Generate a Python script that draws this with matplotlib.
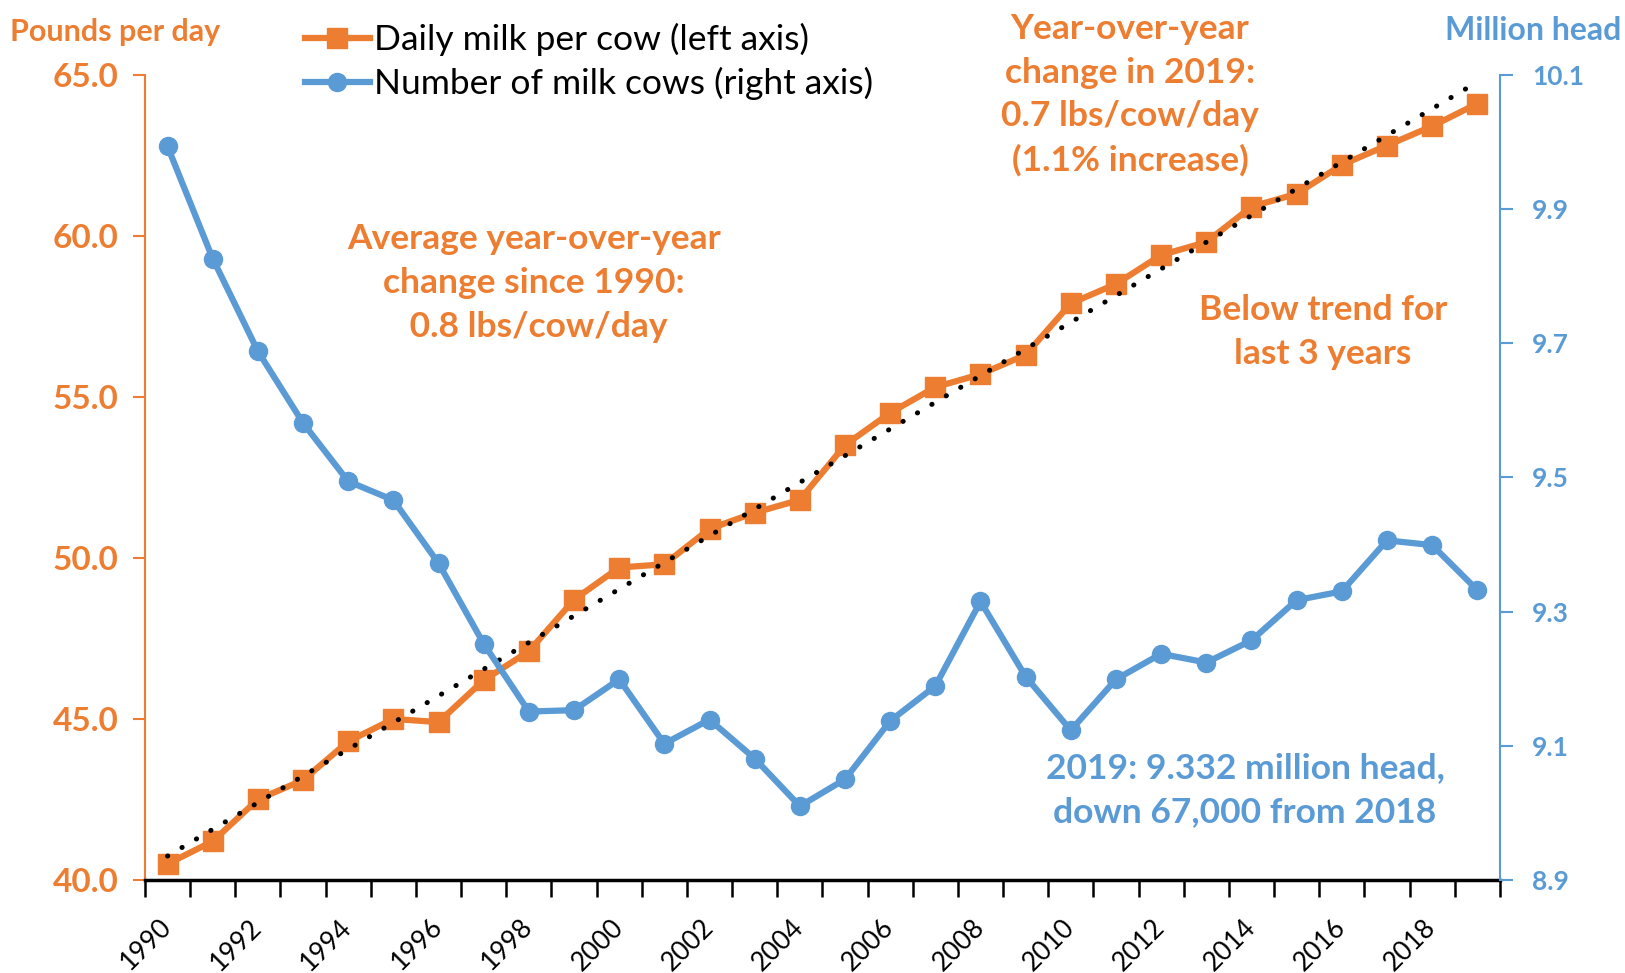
import numpy as np
import matplotlib.pyplot as plt

# ---   DATA   --- #
years = list(range(1990, 2020))
milk_per_cow = [
    40.5, 41.2, 42.5, 43.1, 44.3, 45.0, 44.9, 46.2, 47.1, 48.7,
    49.7, 49.8, 50.9, 51.4, 51.8, 53.5, 54.5, 55.3, 55.7, 56.3,
    57.9, 58.5, 59.4, 59.8, 60.9, 61.3, 62.2, 62.8, 63.4, 64.1,
]
milk_cows = [
    9.993, 9.826, 9.688, 9.581, 9.494, 9.466, 9.372, 9.252, 9.151, 9.153,
    9.199, 9.103, 9.139, 9.081, 9.010, 9.050, 9.137, 9.189, 9.315, 9.203,
    9.123, 9.199, 9.237, 9.224, 9.257, 9.317, 9.330, 9.406, 9.399, 9.332,
]
left_ticks = [40.0, 45.0, 50.0, 55.0, 60.0, 65.0]
right_ticks = [8.9, 9.1, 9.3, 9.5, 9.7, 9.9, 10.1]

ORANGE = '#ED7D31'
BLUE = '#5B9BD5'
FONT = 'Lato'

# ---   FIGURE   --- #
plt.rcParams['font.family'] = [FONT, 'DejaVu Sans']
fig = plt.figure(figsize=(16.25, 9.73), dpi=100)
ax = fig.add_axes([0.0892, 0.0956, 0.8338, 0.8277])
ax2 = ax.twinx()

x = np.arange(len(years))
# Milk per cow + linear trend
ax.plot(x, milk_per_cow, color=ORANGE, lw=4.5, marker='s', ms=14,
        label='Daily milk per cow (left axis)', zorder=3)
coef = np.polyfit(x, milk_per_cow, 1)
ax.plot(x, np.polyval(coef, x), color='black', lw=3.6,
        linestyle=(0, (0.05, 3.3)), dash_capstyle='round', zorder=4)
# Number of cows
ax2.plot(x, milk_cows, color=BLUE, lw=4.5, marker='o', ms=13,
         label='Number of milk cows (right axis)', zorder=3)

# ---   AXES FORMAT   --- #
ax.set_xlim(-0.5, len(years) - 0.5)
ax.set_ylim(40, 65)
ax2.set_ylim(8.9, 10.1)
ax.set_xticks(np.arange(-0.5, len(years), 1.0))
ax.set_xticklabels([])
ax.set_xticks(x[::2], minor=True)
ax.tick_params(axis='x', which='major', length=12, width=1.8, color='black',
               direction='out')
ax.tick_params(axis='x', which='minor', length=0, pad=31)
ax.set_xticklabels([str(y) for y in years[::2]], minor=True, rotation=45,
                   ha='right', va='center', rotation_mode='anchor', fontsize=19)

ax.set_yticks(left_ticks)
ax.set_yticklabels([f'{v:.1f}' for v in left_ticks], fontsize=24,
                   fontweight='bold', color=ORANGE)
ax.tick_params(axis='y', length=9, width=1.5, color=ORANGE, pad=10)
ax2.set_yticks(right_ticks)
ax2.set_yticklabels([f'{v:.1f}' for v in right_ticks], fontsize=19,
                    fontweight='bold', color=BLUE)
ax2.tick_params(axis='y', length=9, width=1.5, color=BLUE, pad=14)

for a in (ax, ax2):
    a.spines['top'].set_visible(False)
ax.spines['right'].set_visible(False)
ax.spines['left'].set_color(ORANGE)
ax.spines['left'].set_linewidth(1.5)
ax.spines['bottom'].set_linewidth(2.5)
ax2.spines['left'].set_visible(False)
ax2.spines['bottom'].set_visible(False)
ax2.spines['right'].set_color(BLUE)
ax2.spines['right'].set_linewidth(1.5)

# ---   TEXTS   --- #
def ftext(px, py, s, color, size=25.5, weight='bold', ha='center'):
    fig.text(px / 1625, 1 - py / 973, s, color=color, fontsize=size,
             fontweight=weight, ha=ha, va='center', linespacing=1.45)

ftext(10, 32, 'Pounds per day', ORANGE, size=22, ha='left')
ftext(1621, 31, 'Million head', BLUE, size=23, ha='right')
ftext(1130, 95, 'Year-over-year\nchange in 2019:\n0.7 lbs/cow/day\n(1.1% increase)',
      ORANGE)
ftext(534, 283, 'Average year-over-year\nchange since 1990:\n 0.8 lbs/cow/day',
      ORANGE)
ftext(1323, 332, 'Below trend for\nlast 3 years', ORANGE)
ftext(1245, 790, '2019: 9.332 million head,\ndown 67,000 from 2018', BLUE)

h1, l1 = ax.get_legend_handles_labels()
h2, l2 = ax2.get_legend_handles_labels()
fig.legend(h1 + h2, l1 + l2, loc='upper left', bbox_to_anchor=(0.168, 1.009),
           frameon=False, fontsize=25.5, handlelength=1.84, handletextpad=0.12,
           labelspacing=0.3)

fig.savefig('out.png', dpi=100)
